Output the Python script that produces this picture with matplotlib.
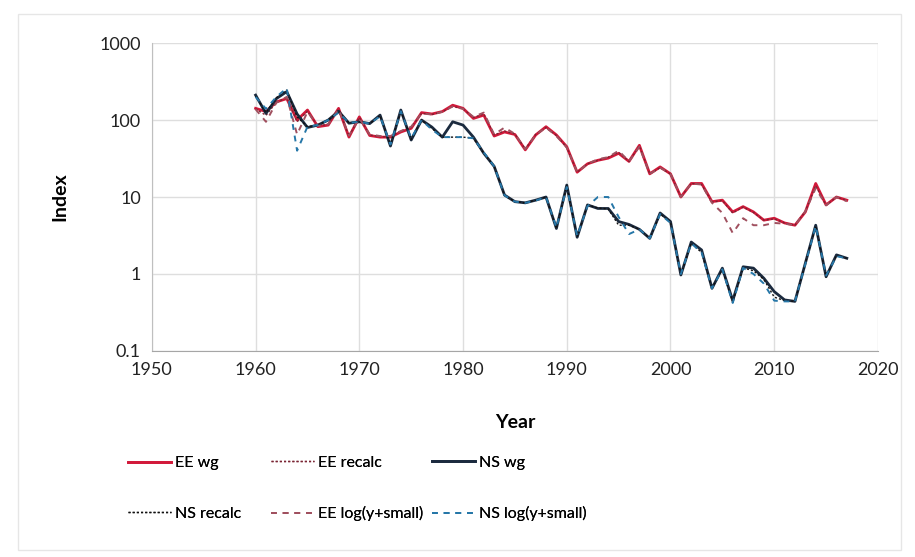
import numpy as np
import matplotlib
matplotlib.use("Agg")
import matplotlib.pyplot as plt
from matplotlib.patches import Rectangle

plt.rcParams['font.family'] = ['Lato', 'DejaVu Sans']

years = list(range(1960, 2018))

ee_wg = [142, 129, 172, 190, 100, 135, 82, 86, 142, 60,
         110, 63, 60, 60, 70, 78, 125, 120, 129, 156,
         142, 105, 116, 62, 70, 65, 41, 64, 82, 64,
         45, 21, 27, 30, 32, 37, 29, 47, 20, 24.6,
         20, 10, 15, 15, 8.7, 9.1, 6.4, 7.5, 6.4, 5.0,
         5.3, 4.6, 4.3, 6.4, 15, 7.9, 10, 9.1]
ee_recalc = [140, 115, 170, 195, 95, 130, 84, 88, 140, 62,
             108, 64, 61, 60, 72, 80, 122, 118, 128, 150,
             140, 108, 120, 64, 72, 66, 42, 65, 80, 63,
             44, 21, 27, 30, 33, 38, 29, 46, 20, 24,
             20, 10, 15, 14.5, 8.6, 9.0, 6.2, 7.4, 6.3, 5.0,
             5.2, 4.6, 4.3, 6.5, 14, 7.8, 10, 9.0]
ns_wg = [211, 122, 190, 234, 120, 80, 86, 100, 130, 91,
         95, 90, 116, 46, 135, 55, 100, 81, 60, 95,
         86, 60, 37, 25, 10.6, 8.7, 8.4, 9.1, 10, 3.9,
         14.3, 3.0, 7.9, 7.1, 7.1, 4.8, 4.4, 3.8, 2.9, 6.2,
         4.8, 0.97, 2.6, 2.05, 0.65, 1.19, 0.45, 1.24, 1.19, 0.88,
         0.59, 0.46, 0.44, 1.38, 4.3, 0.92, 1.77, 1.6]
ns_recalc = [205, 125, 195, 245, 110, 82, 86, 100, 128, 92,
             95, 90, 114, 47, 132, 56, 100, 78, 60, 60,
             60, 58, 37, 25, 10.5, 8.7, 8.4, 9.1, 10, 3.9,
             14, 3.0, 7.9, 7.2, 7.0, 4.3, 4.3, 3.8, 2.9, 6.0,
             4.8, 0.97, 2.5, 1.9, 0.65, 1.15, 0.43, 1.2, 1.1, 0.85,
             0.5, 0.45, 0.44, 1.38, 4.2, 0.92, 1.75, 1.6]
ee_log = [138, 95, 168, 200, 65, 128, 84, 88, 138, 63,
          105, 65, 62, 62, 72, 82, 122, 118, 128, 150,
          140, 110, 125, 65, 80, 66, 42, 64, 80, 62,
          44, 21, 27, 31, 33, 40, 29, 45, 20, 24,
          20, 10, 15, 14.5, 8.4, 6.2, 3.4, 5.3, 4.3, 4.3,
          4.6, 4.5, 4.3, 6.5, 13, 7.8, 10, 8.8]
ns_log = [200, 140, 200, 260, 40, 82, 86, 100, 125, 92,
          95, 90, 112, 48, 130, 58, 100, 75, 60, 60,
          60, 58, 38, 25, 10.5, 8.7, 8.4, 9.0, 10, 4.0,
          13.5, 3.1, 7.6, 10, 10, 5.5, 3.3, 3.8, 2.9, 6.0,
          4.6, 1.0, 2.5, 1.9, 0.65, 1.15, 0.42, 1.2, 1.0, 0.75,
          0.45, 0.44, 0.44, 1.35, 4.2, 0.95, 1.7, 1.6]

c_ee = '#d2193a'
c_ee_recalc = '#7a2433'
c_ns = '#1b2a3e'
c_ns_recalc = '#111111'
c_ee_log = '#a0505f'
c_ns_log = '#2677a8'

fig = plt.figure(figsize=(9.15, 5.57), dpi=100)
ax = fig.add_axes([0.166, 0.370, 0.7935, 0.5526])

l1, = ax.plot(years, ee_wg, c=c_ee, lw=2.0, label='EE wg')
l2, = ax.plot(years, ee_recalc, c=c_ee_recalc, lw=1.0, ls=(0, (1.5, 1.5)), label='EE recalc')
l3, = ax.plot(years, ns_wg, c=c_ns, lw=2.0, label='NS wg')
l4, = ax.plot(years, ns_recalc, c=c_ns_recalc, lw=1.0, ls=(0, (1.5, 1.5)), label='NS recalc')
l5, = ax.plot(years, ee_log, c=c_ee_log, lw=1.4, ls=(0, (3, 3)), label='EE log(y+small)')
l6, = ax.plot(years, ns_log, c=c_ns_log, lw=1.4, ls=(0, (3, 3)), label='NS log(y+small)')

ax.set_yscale('log')
ax.set_xlim(1950, 2020)
ax.set_ylim(0.1, 1000)
ax.set_xticks(range(1950, 2021, 10))
ax.set_yticks([0.1, 1, 10, 100, 1000])
ax.set_yticklabels(['0.1', '1', '10', '100', '1000'])
ax.minorticks_off()
ax.grid(True, color='#dedede', lw=1.0)
ax.set_axisbelow(True)

for s in ['top', 'right']:
    ax.spines[s].set_visible(False)
ax.spines['left'].set_color('#bfbfbf')
ax.spines['bottom'].set_color('#a6a6a6')
ax.tick_params(length=0, labelsize=13, colors='#222222', pad=8)

ax.set_xlabel('Year', fontsize=14, fontweight='bold', labelpad=26)
ax.set_ylabel('Index', fontsize=14, fontweight='bold', labelpad=22)

# one legend per column so the columns sit where the reference puts them
cols = [([l1, l4], ['EE wg', 'NS recalc'], 0.140),
        ([l2, l5], ['EE recalc', 'EE log(y+small)'], 0.296),
        ([l3, l6], ['NS wg', 'NS log(y+small)'], 0.472)]
for handles, labels, x0 in cols:
    leg = fig.legend(handles, labels, loc='center left', bbox_to_anchor=(x0, 0.123),
                     frameon=False, fontsize=11.5, handlelength=2.7, handletextpad=0.25,
                     labelspacing=2.3, borderpad=0, borderaxespad=0)
    fig.add_artist(leg)

fig.patches.append(Rectangle((0.02, 0.012), 0.965, 0.962, transform=fig.transFigure,
                             fill=False, edgecolor='#e6e6e6', lw=1.0))

fig.savefig('out.png', dpi=100)
